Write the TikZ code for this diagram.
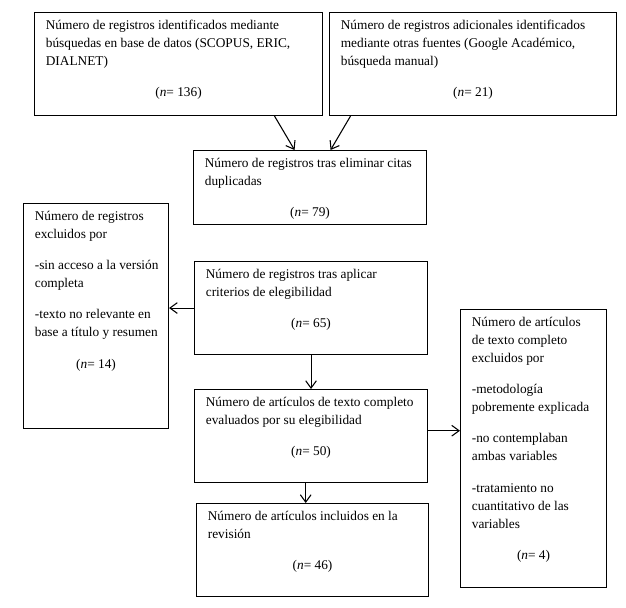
\documentclass[tikz,border=0pt]{standalone}
\usepackage{fontspec}
\setmainfont{Liberation Serif}
\usetikzlibrary{arrows.meta}

\newcommand{\contenido}[3]{\parbox[c][\dimexpr#2pt*3/4\relax][t]{\dimexpr#1pt*3/4\relax}{\fontsize{10}{13.5}\selectfont\raggedright\leftskip=8.5pt\rule{0pt}{12.5pt}#3}}
\newcommand{\nval}[1]{\par\vspace{10pt}{\centering(\textit{n}= #1)\par}}
\newcommand{\salto}{\par\vspace{10pt}}

\begin{document}
\begin{tikzpicture}[x=0.75pt,y=-0.75pt,
  caja/.style={draw, line width=0.8pt, inner sep=0pt, anchor=north west},
  flecha/.style={line width=0.8pt, -{Straight Barb[length=5.5pt,width=8pt]}}]
\useasboundingbox (0,0) rectangle (626,608);

\node[caja] (bases) at (34,12) {\contenido{288}{103}{Número de registros identificados mediante\\ búsquedas en base de datos (SCOPUS, ERIC,\\ DIALNET)\nval{136}}};
\node[caja] (otras) at (329,12) {\contenido{287}{103}{Número de registros adicionales identificados\\ mediante otras fuentes (Google Académico,\\ búsqueda manual)\nval{21}}};
\node[caja] (duplic) at (193,150) {\contenido{233}{74}{Número de registros tras eliminar citas\\ duplicadas\nval{79}}};
\node[caja] (excl1) at (23,203) {\contenido{145}{225}{Número de registros\\ excluidos por\salto -sin acceso a la versión\\ completa\salto -texto no relevante en\\ base a título y resumen\nval{14}}};
\node[caja] (cribado) at (194,261) {\contenido{233}{93}{Número de registros tras aplicar\\ criterios de elegibilidad\nval{65}}};
\node[caja] (evaluados) at (194,389) {\contenido{233}{93}{Número de artículos de texto completo\\ evaluados por su elegibilidad\nval{50}}};
\node[caja] (incluidos) at (196,503) {\contenido{232}{93}{Número de artículos incluidos en la\\ revisión\nval{46}}};
\node[caja] (excl2) at (460,309) {\contenido{146}{278}{Número de artículos\\ de texto completo\\ excluidos por\salto -metodología\\ pobremente explicada\salto -no contemplaban\\ ambas variables\salto -tratamiento no\\ cuantitativo de las\\ variables\nval{4}}};

\draw[flecha] ([xshift=72pt]bases.south) -- ([xshift=-11.6pt]duplic.north);
\draw[flecha] ([xshift=-91.9pt]otras.south) -- ([xshift=15.4pt]duplic.north);
\draw[flecha] (cribado.west) -- (cribado.west -| excl1.east);
\draw[flecha] (cribado.south) -- (evaluados.north);
\draw[flecha] ([xshift=-4pt]evaluados.south) -- ([xshift=-4pt]evaluados.south |- incluidos.north);
\draw[flecha] ([yshift=4pt]evaluados.east) -- ([yshift=4pt]evaluados.east -| excl2.west);
\end{tikzpicture}
\end{document}
